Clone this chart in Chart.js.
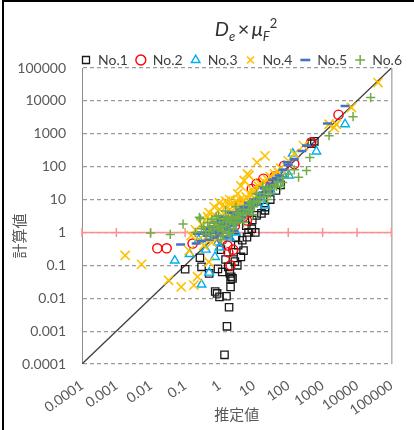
<!DOCTYPE html>
<html lang="ja">
<head>
  <meta charset="UTF-8" />
  <title>De x muF^2</title>
  <script src="https://cdn.jsdelivr.net/npm/chart.js"></script>
  <style>
    body { margin: 0; background: #fff; }
    #wrap { position: relative; width: 414px; height: 430px; overflow: hidden; }
    #wrap canvas { position: absolute; left: 0; top: 0; }
    #frame {
      position: absolute; left: 2px; top: 0; width: 420px; height: 440px;
      border-top: 2px solid #000; border-left: 2px solid #000; pointer-events: none;
    }
    #ttl {
      position: absolute; left: 146px; top: 17px; width: 200px; text-align: center;
      font-family: Lato, sans-serif; font-size: 20px; color: #333; line-height: 1;
    }
    #ttl sub, #ttl sup { font-size: 13px; }
  </style>
</head>
<body>
<div id="wrap">
  <canvas id="chart" width="414" height="430"></canvas>
  <div id="ttl"><i>D</i><sub><i>e</i></sub>&thinsp;×&thinsp;<i>μ</i><sub><i>F</i></sub><sup>2</sup></div>
  <div id="frame"></div>
</div>

<script>
  // series labels + points, [estimated, computed]
  const seriesNames = ['No.1', 'No.2', 'No.3', 'No.4', 'No.5', 'No.6'];

  const no1 = [[0.1,0.076],[0.3,0.09],[0.27,0.17],[0.9,0.078],[1.2,0.063],[2.1,0.038],[0.85,0.014],[1.0,0.011],
    [1.6,0.0115],[1.9,0.0053],[1.65,0.0014],[1.4,0.00019],[0.5,0.057],[2.0,0.057],[2.4,0.04],[0.75,0.016],
    [11,1.0],[7,1.0],[6.3,0.72],[5,0.28],[4.2,0.18],[3.3,0.1],[2.2,0.045],[2.1,0.022],[21,5.9],[12,3.3],
    [575,590],[480,500],[44,19],[21,4.7],[16.6,3.8],[8.7,1.3],[4.6,0.58],[3.5,0.41],[2.6,0.25],[1.5,0.15],
    [3,0.7],[6,1.6],[9,2.4],[30,10],[60,28],[1.1,0.3],[2.8,0.13],[1.8,0.09]];

  const no2 = [[0.0155,0.33],[0.029,0.33],[0.165,0.46],[2.1,0.1],[2900,3800],[470,550],[76,107],[19,43],
    [12,30],[8.7,21],[3.8,6.6],[2.8,1.6],[1.7,0.4],[6.3,2.3],[1.5,1.0],[5,3],[30,25],[150,120],[1.2,0.6],
    [3,2.2],[0.8,1.2],[40,50],[2.5,0.3],[1.8,0.25]];

  const no3 = [[0.05,0.14],[0.135,0.22],[0.5,0.06],[0.3,0.026],[0.74,0.18],[4500,1950],[660,290],[135,250],
    [105,54],[21,6.6],[0.4,0.3],[0.9,0.5],[1.5,1.2],[2.5,2],[4,3],[7,5],[10,8],[15,12],[30,20],[50,30],
    [1,0.35],[0.6,0.9],[2,0.7],[0.25,0.6],[3,1],[70,60]];

  const no4 = [[0.0018,0.2],[0.0054,0.107],[0.033,0.035],[0.077,0.022],[0.18,0.025],[0.23,0.045],[0.13,0.28],
    [0.49,0.126],[41000,36000],[6900,6300],[2500,1950],[1540,1950],[2150,1550],[277,436],[12.3,135],[21,213],
    [6.5,60],[5.2,38],[3.4,15],[7.2,54],[4.2,26],[2.2,7.4],[0.2,1.2],[0.3,1.8],[0.5,2.5],[0.7,3.5],[1,5],
    [1.5,6],[2,10],[3,9],[0.15,0.8],[0.4,0.7],[0.6,1.5],[1,2.5],[1.8,3],[2.5,4],[4,6],[6,12],[9,20],[14,25],
    [25,40],[40,60],[60,90],[100,150],[150,250],[0.9,0.7],[1.3,1.2],[0.35,0.4],[0.25,0.6],[0.8,1.8],
    [1.2,3.2],[2.8,5.5],[5,9],[8,14],[0.6,0.5],[0.5,4],[0.7,6],[1,8],[1.5,9],[0.4,1.2],[0.45,3],[2,5],
    [3,6],[1.2,2],[0.7,1],[4,10],[6,8],[10,15],[15,30],[20,35],[30,50],[50,70],[2.5,2.5],[1.6,1.5]];

  const no5 = [[0.074,0.43],[0.23,0.91],[0.4,0.91],[0.21,0.46],[4500,7000],[1380,2050],[340,436],[93,135],
    [55,54],[0.6,1],[0.8,1.2],[1,1.5],[1.2,1],[1.5,2],[2,2.5],[2.5,1.8],[3,3.5],[4,4],[5,6],[7,8],[10,10],
    [14,15],[20,22],[30,30],[45,45],[70,80],[150,170],[250,300],[1,0.8],[1.8,1.2],[0.5,0.6],[0.3,0.55],
    [2.2,4],[6,4],[12,7],[0.7,2],[1.3,3],[0.3,1.0],[0.55,1.0],[0.85,1.0],[3.5,2.2],[8,5.5],[18,13],[25,18],
    [35,40],[100,110],[1.6,0.7],[2.6,1.1],[4.5,2.8],[0.4,1.3],[0.6,1.5],[0.9,2],[1.2,1.8],[1.6,1.4],
    [2.3,1.6],[3,2.5],[4,3],[5,4],[6,5],[9,7],[13,10],[18,16],[30,25],[50,40],[0.45,0.8],[0.7,0.7],
    [1.1,2.4],[2.8,3],[3.8,5]];

  const no6 = [[0.0098,0.96],[0.037,0.87],[0.087,1.8],[0.28,2.6],[0.93,3.3],[0.26,2.9],[25000,12600],
    [7700,3300],[1540,870],[425,190],[340,76],[200,48],[69,33],[0.3,1.3],[0.5,1.5],[0.7,2],[1,2],[1.3,2.5],
    [1.8,3],[2.5,3],[3.5,4],[5,5],[7,7],[10,9],[15,12],[20,15],[30,20],[50,35],[100,60],[0.6,0.8],[0.9,1.2],
    [1.5,1.5],[2,2],[3,2],[4,2.5],[6,3.5],[8,5],[12,8],[0.4,0.9],[1.2,1.1],[2.5,1.3],[18,25],[40,28],
    [0.8,3],[1.5,4.5],[3,6],[0.2,1.0],[1.1,0.6],[2,0.9],[5,2],[9,3.5],[25,10],[60,25],[150,80],
    [0.6,2.5],[0.8,1.6],[1.2,1.6],[1.6,2.2],[2.2,2.6],[3,3],[4,3.5],[5,4],[7,5],[10,6],[14,9],[20,12],
    [30,15],[45,25],[70,45],[0.5,1.1],[0.7,1.3],[1,1.4],[2.8,1.8],[3.5,2.8],[12,15],[25,22],[8,8],[1.8,1],
    [1.3,0.8],[0.35,1.5],[0.45,2]];

  // axis decades + their labels
  const decades = [0.0001, 0.001, 0.01, 0.1, 1, 10, 100, 1000, 10000, 100000];
  const tickLabels = ['0.0001', '0.001', '0.01', '0.1', '1', '10', '100', '1000', '10000', '100000'];

  const toXY = arr => arr.map(p => ({ x: p[0], y: p[1] }));
  const fmt = v => { const i = decades.indexOf(v); return i >= 0 ? tickLabels[i] : ''; };
  const FONT = 'Lato, "Noto Sans CJK JP", sans-serif';

  function series(i, pts, style, color, radius, width) {
    return {
      label: seriesNames[i],
      data: toXY(pts),
      pointStyle: style,
      radius: radius,
      borderColor: color,
      backgroundColor: 'rgba(0,0,0,0)',
      borderWidth: width,
      order: 10 - i          // later series on top, like excel
    };
  }

  const datasets = [
    series(0, no1, 'rect', '#1a1a1a', 5.2, 1.3),
    series(1, no2, 'circle', '#ff0000', 4.6, 1.4),
    series(2, no3, 'triangle', '#00b0f0', 5, 1.4),
    series(3, no4, 'crossRot', '#ffc000', 6.5, 1.6),
    series(4, no5, 'line', '#4472c4', 4.5, 2.6),
    series(5, no6, 'cross', '#70ad47', 4.6, 1.5),
    {
      // 1:1 line
      label: 'y=x',
      data: [{ x: decades[0], y: decades[0] }, { x: decades[9], y: decades[9] }],
      showLine: true, pointRadius: 0, borderColor: '#404040', borderWidth: 1.3, order: 20
    },
    {
      // horizontal axis crossing at 1, with its tick marks
      label: 'axis',
      data: decades.map(v => ({ x: v, y: 1 })),
      showLine: true, pointStyle: 'line', rotation: 90, radius: 4.5,
      borderColor: '#ff8f8f', backgroundColor: '#ff8f8f', borderWidth: 1.5, order: 21, clip: false
    }
  ];

  const extras = {
    id: 'extras',
    afterLayout(chart) {
      // excel centres the legend over the plot, a bit lower than chart.js does
      const lg = chart.legend;
      lg.left += 40; lg.right += 40;
      lg.top += 9; lg.bottom += 9;
    },
    beforeDatasetsDraw(chart) {
      const { ctx, chartArea: a } = chart;
      ctx.save();
      ctx.strokeStyle = '#8c8c8c';
      ctx.lineWidth = 1;
      ctx.beginPath();
      ctx.moveTo(a.right + 0.5, a.top);
      ctx.lineTo(a.right + 0.5, a.bottom);
      ctx.stroke();
      ctx.restore();
    },
    afterDraw(chart) {
      const ctx = chart.ctx;
      ctx.save();
      ctx.translate(20, 236);
      ctx.rotate(-Math.PI / 2);
      ctx.fillStyle = '#595959';
      ctx.font = '15px ' + FONT;
      ctx.textAlign = 'center';
      ctx.textBaseline = 'middle';
      ctx.fillText('計算値', 0, 0);
      ctx.restore();
    }
  };

  new Chart(document.getElementById('chart'), {
    type: 'scatter',
    data: { datasets },
    options: {
      responsive: false,
      animation: false,
      layout: { padding: { top: 36, left: 0, right: 11, bottom: 4 } },
      plugins: {
        tooltip: { enabled: false },
        legend: {
          position: 'top',
          align: 'center',
          labels: {
            sort: (a, b) => a.datasetIndex - b.datasetIndex,
            filter: item => item.datasetIndex < 6,
            usePointStyle: true,
            boxWidth: 10,
            boxHeight: 7,
            padding: 8,
            color: '#404040',
            font: { family: FONT, size: 14 }
          }
        }
      },
      scales: {
        x: {
          type: 'logarithmic',
          min: decades[0], max: decades[9],
          afterBuildTicks: s => { s.ticks = decades.map(v => ({ value: v })); },
          afterFit: s => { s.height = 62; },
          grid: { display: false, drawTicks: false },
          border: { display: false },
          ticks: {
            callback: fmt, autoSkip: false, minRotation: 35, maxRotation: 35, padding: 13,
            color: '#595959', font: { family: FONT, size: 14 }
          },
          title: {
            display: true, text: '推定値', color: '#595959',
            font: { family: FONT, size: 15 }, padding: { top: 2, bottom: 2 }
          }
        },
        y: {
          type: 'logarithmic',
          min: decades[0], max: decades[9],
          afterBuildTicks: s => { s.ticks = decades.map(v => ({ value: v })); },
          afterFit: s => { s.width = 82; },
          grid: { color: '#9a9a9a', lineWidth: 1.2, drawTicks: false },
          border: { display: true, color: '#8c8c8c', width: 1, dash: [4, 3] },
          ticks: {
            callback: fmt, padding: 16, color: '#595959', font: { family: FONT, size: 14 }
          }
        }
      }
    },
    plugins: [extras]
  });
</script>
</body>
</html>
